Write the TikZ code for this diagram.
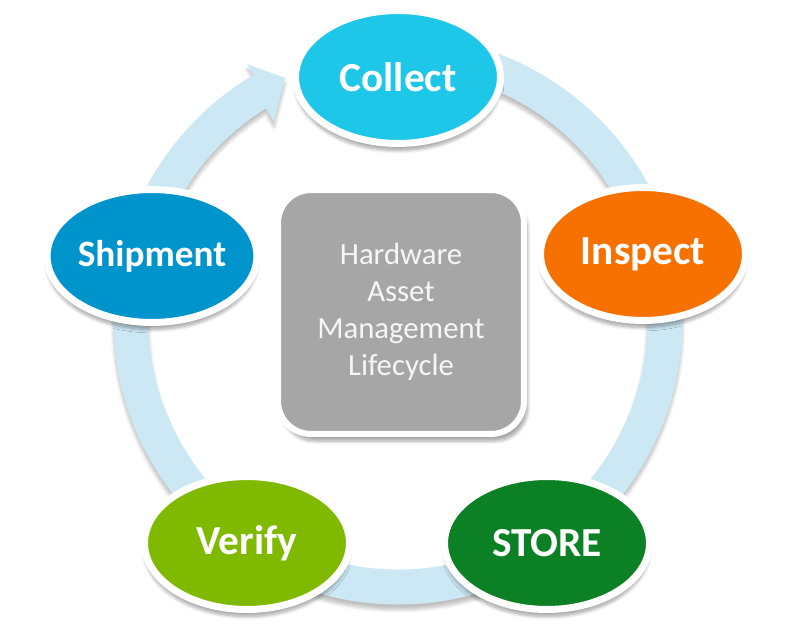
\documentclass[tikz,border=0pt]{standalone}
\usepackage{fontspec}
\setmainfont{Carlito}
\usetikzlibrary{shapes.geometric,shadows.blur}
\definecolor{ringblue}{RGB}{204,232,244}
\definecolor{collectcol}{RGB}{30,199,232}
\definecolor{inspectcol}{RGB}{247,113,0}
\definecolor{storecol}{RGB}{11,128,36}
\definecolor{verifycol}{RGB}{128,186,0}
\definecolor{shipcol}{RGB}{0,148,204}
\definecolor{hubgray}{RGB}{166,166,166}
\definecolor{hubtext}{RGB}{246,246,246}

\begin{document}
\begin{tikzpicture}[x=0.02cm, y=0.02cm,
  phase/.style={ellipse, draw=white, line width=0.14cm, minimum width=4.1cm,
    minimum height=2.66cm, inner sep=0pt, text=white,
    font=\fontsize{23.5}{27}\selectfont\bfseries,
    blur shadow={shadow xshift=0pt, shadow yshift=-4pt, shadow blur steps=8, shadow opacity=35}},
  hub/.style={rectangle, rounded corners=0.66cm, fill=hubgray, draw=white,
    line width=0.12cm, minimum width=4.92cm, minimum height=4.88cm,
    align=center, text=hubtext, font=\fontsize{17.5}{21}\selectfont,
    blur shadow={shadow xshift=2pt, shadow yshift=-4pt, shadow blur steps=8, shadow opacity=35}}]
  \useasboundingbox (0,0) rectangle (794,633);
  \coordinate (c) at (398,313);
  % the cycle arrow
  \fill[ringblue, blur shadow={shadow xshift=0pt, shadow yshift=-3pt, shadow blur steps=6, shadow opacity=25}]
    ([shift={(88:284.5)}]c) arc[start angle=88, end angle=-239.5, radius=284.5]
    -- ([shift={(-239.5:297)}]c) -- ([shift={(-245:267)}]c)
    -- ([shift={(-238:234)}]c) -- ([shift={(-238:249.5)}]c)
    arc[start angle=-238, end angle=88, radius=249.5] -- cycle;
  \node[hub] (hub) at (401,321) {Hardware\\Asset\\Management\\Lifecycle};
  \node[phase, fill=collectcol] (collect) at (398,556) {Collect};
  \node[phase, fill=inspectcol] (inspect) at (643,379) {Inspect};
  \node[phase, fill=storecol] (store) at (547,90) {STORE};
  \node[phase, fill=verifycol] (verify) at (247,90) {Verify};
  \node[phase, fill=shipcol, font=\fontsize{21.2}{25}\selectfont\bfseries] (ship) at (152,377) {Shipment};
\end{tikzpicture}
\end{document}
